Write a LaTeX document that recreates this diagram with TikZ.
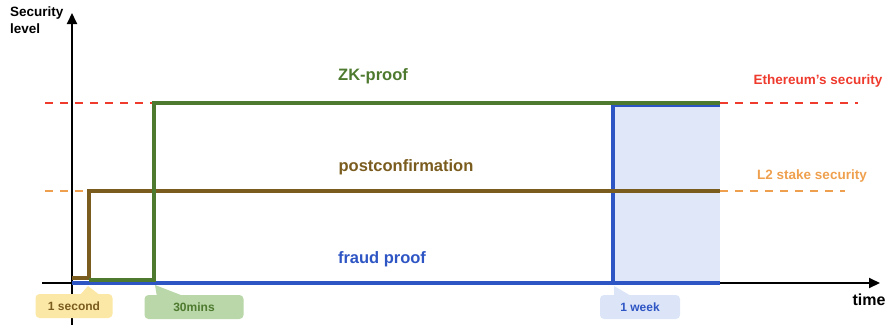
\documentclass[tikz,border=0pt]{standalone}
\usepackage{fontspec}
\setmainfont{Liberation Sans}
\usetikzlibrary{arrows.meta}
\definecolor{zkgreen}{HTML}{4E7A2F}
\definecolor{pcbrown}{HTML}{7A5C1E}
\definecolor{fpblue}{HTML}{2E55C4}
\definecolor{ethred}{HTML}{EE3B2E}
\definecolor{l2orange}{HTML}{EFA04E}
\definecolor{weekfill}{HTML}{DFE7F9}
\definecolor{secfill}{HTML}{FCE8A6}
\definecolor{minfill}{HTML}{B9D7A8}
\definecolor{wkfill}{HTML}{DCE5F8}
\tikzset{
  axis/.style={line width=2pt,-{Triangle[length=11pt,width=10pt]}},
  level/.style={line width=1.6pt,dash pattern=on 8pt off 7pt},
  curve/.style={line width=3.6pt,line join=miter},
  lbl/.style={font=\bfseries\fontsize{16.5}{18}\selectfont},
  side/.style={font=\bfseries\fontsize{13.5}{15}\selectfont},
  callout/.style={rounded corners=4pt,minimum height=24pt,inner sep=0pt,font=\bfseries\fontsize{12}{14}\selectfont}
}
\begin{document}
\begin{tikzpicture}[x=1pt,y=-1pt]
\useasboundingbox (0,0) rectangle (892,327);

% shaded window of the fraud-proof challenge period
\fill[weekfill] (613,104) rectangle (720,283);

% reference security levels
\draw[level,ethred] (45,103) -- (858,103);
\draw[level,l2orange] (45,191) -- (845,191);

% axes
\coordinate (yb) at (72,325);
\coordinate (yt) at (72,13);
\coordinate (xl) at (42,283);
\coordinate (xr) at (880,283);
\draw[axis] (yb) -- (yt);
\draw[axis] (xl) -- (xr);

% security curves
\draw[curve,fpblue,line width=4pt] (72,283) -- (613,283) -- (613,105) -- (720,105);
\draw[curve,fpblue,line width=4pt] (613,283) -- (720,283);
\draw[curve,pcbrown] (72,278) -- (89,278) -- (89,191) -- (720,191);
\draw[curve,zkgreen] (89,280) -- (154,280) -- (154,103) -- (720,103);

% curve labels
\node[lbl,zkgreen] (zk) at (373,76) {ZK-proof};
\node[lbl,pcbrown] (pc) at (406,167) {postconfirmation};
\node[lbl,fpblue] (fp) at (382,259) {fraud proof};
\node[side,ethred] (eth) at (818,81) {Ethereum’s security};
\node[side,l2orange] (l2) at (812,176) {L2 stake security};

% axis labels
\node[font=\bfseries\fontsize{13.5}{17}\selectfont,align=left,anchor=north west,inner sep=0pt] (ylab) at (10,7) {Security\\level};
\node[font=\bfseries\fontsize{16}{18}\selectfont] (xlab) at (869,300) {time};

% time callouts
\coordinate (p1) at (88,286);
\coordinate (p2) at (155,285);
\coordinate (p3) at (614,286);
\fill[secfill] (p1) -- (79,296) -- (101,296) -- cycle;
\node[callout,fill=secfill,text=pcbrown,minimum width=77pt] (sec) at (74,306) {1 second};
\fill[minfill] (p2) -- (157,297) -- (186,297) -- cycle;
\node[callout,fill=minfill,text=zkgreen,minimum width=99pt] (min) at (194,307) {30mins};
\fill[wkfill] (p3) -- (614,297) -- (633,297) -- cycle;
\node[callout,fill=wkfill,text=fpblue,minimum width=80pt] (wk) at (640,307) {1 week};
\end{tikzpicture}
\end{document}
